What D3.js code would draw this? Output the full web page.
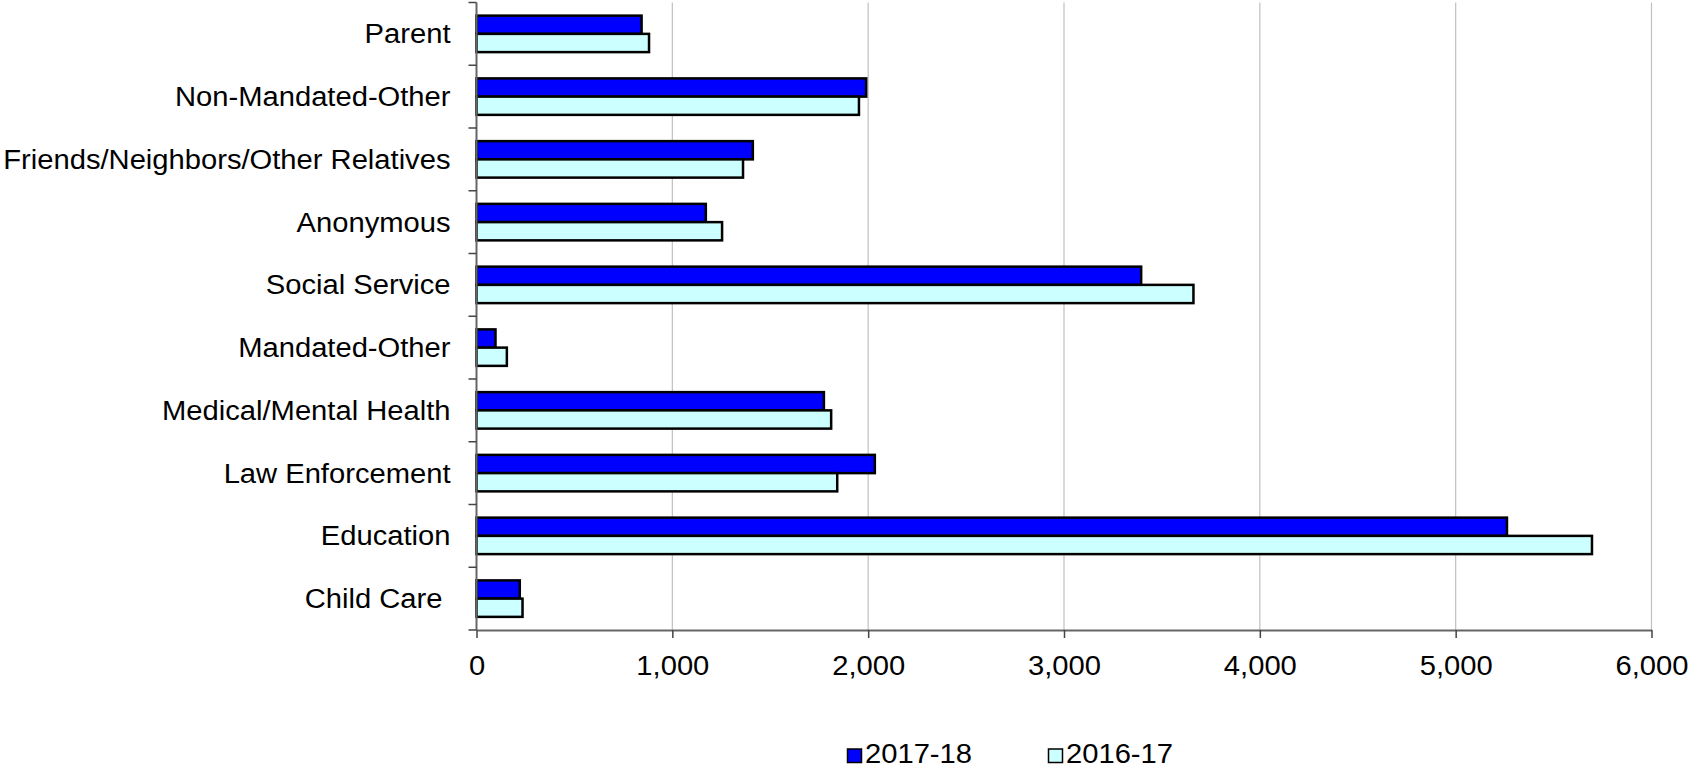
<!DOCTYPE html>
<html>
<head>
<meta charset="utf-8">
<script src="https://cdn.jsdelivr.net/npm/d3@7"></script>
<style>
  body { margin: 0; background: #fff; }
  text { font-family: "Liberation Sans", Arial, sans-serif; fill: #000; }
</style>
</head>
<body>
<script>
// data, top to bottom as drawn
const categories = ['Parent', 'Non-Mandated-Other', 'Friends/Neighbors/Other Relatives', 'Anonymous',
    'Social Service', 'Mandated-Other', 'Medical/Mental Health', 'Law Enforcement', 'Education', 'Child Care ']
const series = ['2017-18', '2016-17']
const values2017 = [843, 1990, 1411, 1171, 3394, 97, 1774, 2034, 5262, 221]
const values2016 = [881, 1953, 1361, 1254, 3661, 155, 1811, 1842, 5696, 235]
const xTicks = [0, 1000, 2000, 3000, 4000, 5000, 6000]

const colors = { '2017-18': '#0000ff', '2016-17': '#ccffff' }
const stretch = 'scale(1.08,1)'

const m = { left: 476.5, right: 1651.5, top: 2.5, bottom: 630 }
const W = 1690, H = 768

const svg = d3.select('body').append('svg')
    .attr('width', W)
    .attr('height', H)

const x = d3.scaleLinear().domain([0, 6000]).range([m.left, m.right])
const y = d3.scaleBand().domain(categories).range([m.top, m.bottom]).padding(0)
const ySub = d3.scaleBand().domain(series).range([0, y.bandwidth()])
    .paddingInner(0).paddingOuter(0.72)

// gridlines
svg.append('g').selectAll('line')
    .data(xTicks.filter(d => d > 0))
    .enter().append('line')
    .attr('x1', d => x(d)).attr('x2', d => x(d))
    .attr('y1', m.top).attr('y2', m.bottom)
    .attr('stroke', '#c0c0c0')
    .attr('stroke-width', 1.2)

// bars
const rows = categories.map((c, i) => ({ cat: c, vals: [
    { s: '2017-18', v: values2017[i] },
    { s: '2016-17', v: values2016[i] }
] }))

svg.append('g').selectAll('g')
    .data(rows)
    .enter().append('g')
    .attr('transform', d => `translate(0,${y(d.cat)})`)
    .selectAll('rect')
    .data(d => d.vals)
    .enter().append('rect')
        .attr('x', x(0))
        .attr('y', d => ySub(d.s))
        .attr('width', d => x(d.v) - x(0))
        .attr('height', ySub.bandwidth())
        .attr('fill', d => colors[d.s])
        .attr('stroke', '#000')
        .attr('stroke-width', 2.5)

// x axis
const xAxis = svg.append('g')
    .attr('transform', `translate(0,${m.bottom})`)
    .call(d3.axisBottom(x).tickValues(xTicks).tickSize(8).tickSizeOuter(0)
        .tickFormat(d3.format(',')))
xAxis.select('.domain').attr('stroke', '#666').attr('stroke-width', 2)
xAxis.selectAll('.tick line').attr('stroke', '#444').attr('stroke-width', 1.5)
xAxis.selectAll('.tick text')
    .attr('y', 0).attr('dy', 0)
    .attr('transform', 'translate(0,45) ' + stretch)
    .attr('font-size', 27)
    .attr('font-family', '"Liberation Sans", Arial, sans-serif')
    .attr('fill', '#000')

// y axis line and ticks at band edges
svg.append('line')
    .attr('x1', m.left).attr('x2', m.left)
    .attr('y1', m.top).attr('y2', m.bottom)
    .attr('stroke', '#666').attr('stroke-width', 2)
const edges = categories.map(c => y(c)).concat([m.bottom])
svg.append('g').selectAll('line')
    .data(edges)
    .enter().append('line')
    .attr('x1', m.left - 8).attr('x2', m.left)
    .attr('y1', d => d).attr('y2', d => d)
    .attr('stroke', '#444').attr('stroke-width', 1.5)

// category labels
svg.append('g').selectAll('text')
    .data(categories)
    .enter().append('text')
    .attr('transform', d => `translate(${m.left - 26},${y(d) + y.bandwidth() / 2 + 9.6}) ${stretch}`)
    .attr('text-anchor', 'end')
    .attr('font-size', 27)
    .style('white-space', 'pre')
    .text(d => d)

// legend
const legendX = [847, 1048]
const leg = svg.append('g').selectAll('g')
    .data(series)
    .enter().append('g')
    .attr('transform', (d, i) => `translate(${legendX[i]},0)`)
leg.append('rect')
    .attr('x', 0.5).attr('y', 749)
    .attr('width', 14).attr('height', 13.5)
    .attr('fill', d => colors[d])
    .attr('stroke', '#000')
    .attr('stroke-width', 1.5)
leg.append('text')
    .attr('transform', `translate(18,762.5) ${stretch}`)
    .attr('font-size', 27)
    .text(d => d)
</script>
</body>
</html>
